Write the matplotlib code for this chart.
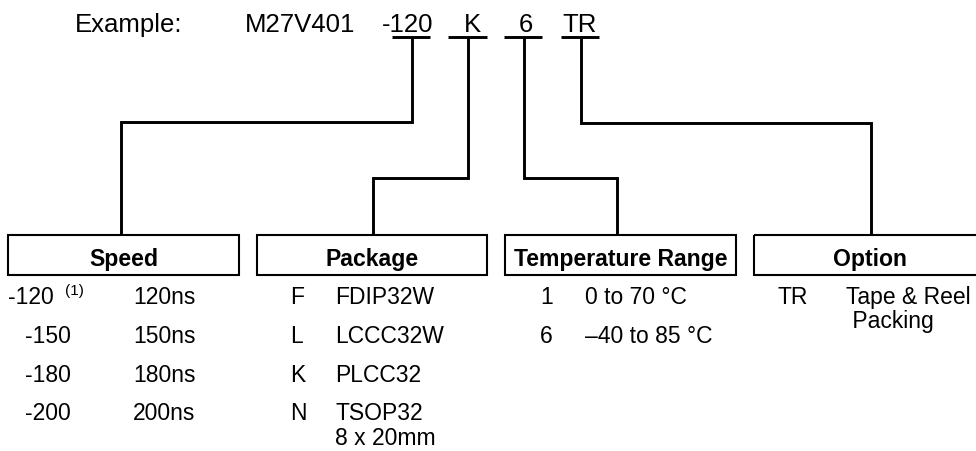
import matplotlib
matplotlib.use("Agg")
import matplotlib.pyplot as plt
from matplotlib.patches import Rectangle

plt.rcParams['font.family'] = ['Liberation Sans', 'DejaVu Sans']

# Ordering scheme content
example_parts = ["-120", "K", "6", "TR"]
field_titles = ["Speed", "Package", "Temperature Range", "Option"]

speed_codes = ["-120", "-150", "-180", "-200"]
speed_values = ["120ns", "150ns", "180ns", "200ns"]

package_codes = ["F", "L", "K", "N"]
package_names = ["FDIP32W", "LCCC32W", "PLCC32", "TSOP32\n8 x 20mm"]

temp_codes = ["1", "6"]
temp_ranges = ["0 to 70 \u00b0C", "\u201340 to 85 \u00b0C"]

option_codes = ["TR"]
option_names = ["Tape & Reel\n Packing"]

W, H = 976, 451
fig = plt.figure(figsize=(W / 100, H / 100), dpi=100)
ax = fig.add_axes([0, 0, 1, 1])
ax.set_xlim(0, W)
ax.set_ylim(H, 0)
ax.axis('off')

HEAD = 18.5
BODY = 16.5
TITLE = 16.6
LW = 2.1

# header line
base_y = 32
ax.text(75, base_y, "Example:", fontsize=HEAD, va='baseline')
ax.text(245, base_y, "M27V401", fontsize=HEAD, va='baseline')
head_x = [382, 464, 519, 562]
under = [(392, 430), (448, 487), (504, 542), (561, 599)]
for part, x in zip(example_parts, head_x):
    ax.text(x, base_y, part, fontsize=HEAD, va='baseline')
for x0, x1 in under:
    ax.plot([x0, x1], [37, 37], color='black', lw=LW, solid_capstyle='butt')

# boxes
box_top, box_bot = 235, 275
box_x = [(8, 239), (257, 487), (505, 736), (754, 985)]
for (x0, x1), title in zip(box_x, field_titles):
    ax.add_patch(Rectangle((x0, box_top), x1 - x0, box_bot - box_top,
                           fill=False, ec='black', lw=1.5, clip_on=False))
    ax.text((x0 + x1) / 2, 266, title, fontsize=TITLE, fontweight='bold',
            ha='center', va='baseline')

# connectors from the example code to each field box
drop_x = [412, 468, 524, 581]
bend_y = [122, 178, 178, 123]
box_in = [121, 373, 617, 871]
for x, yb, xb in zip(drop_x, bend_y, box_in):
    ax.plot([x, x, xb, xb], [37, yb, yb, box_top], color='black', lw=LW,
            solid_joinstyle='miter', solid_capstyle='butt')

row_y = [304, 343, 381.5, 420]
line_gap = 25

# speed
for i, (c, v) in enumerate(zip(speed_codes, speed_values)):
    ax.text(8 if i == 0 else 25, row_y[i], c, fontsize=BODY, va='baseline')
    ax.text(133, row_y[i], v, fontsize=BODY, va='baseline')
ax.text(65, 295, "(1)", fontsize=11, va='baseline')

# package
for i, (c, n) in enumerate(zip(package_codes, package_names)):
    ax.text(290, row_y[i], c, fontsize=BODY, va='baseline')
    for j, line in enumerate(n.split("\n")):
        ax.text(335, row_y[i] + j * line_gap, line, fontsize=BODY, va='baseline')

# temperature
for i, (c, r) in enumerate(zip(temp_codes, temp_ranges)):
    ax.text(540, row_y[i], c, fontsize=BODY, va='baseline')
    ax.text(585, row_y[i], r, fontsize=BODY, va='baseline')

# option
for i, (c, n) in enumerate(zip(option_codes, option_names)):
    ax.text(777, row_y[i], c, fontsize=BODY, va='baseline')
    for j, line in enumerate(n.split("\n")):
        ax.text(846, row_y[i] + j * 24, line, fontsize=BODY, va='baseline')

fig.savefig("out.png", dpi=100)
